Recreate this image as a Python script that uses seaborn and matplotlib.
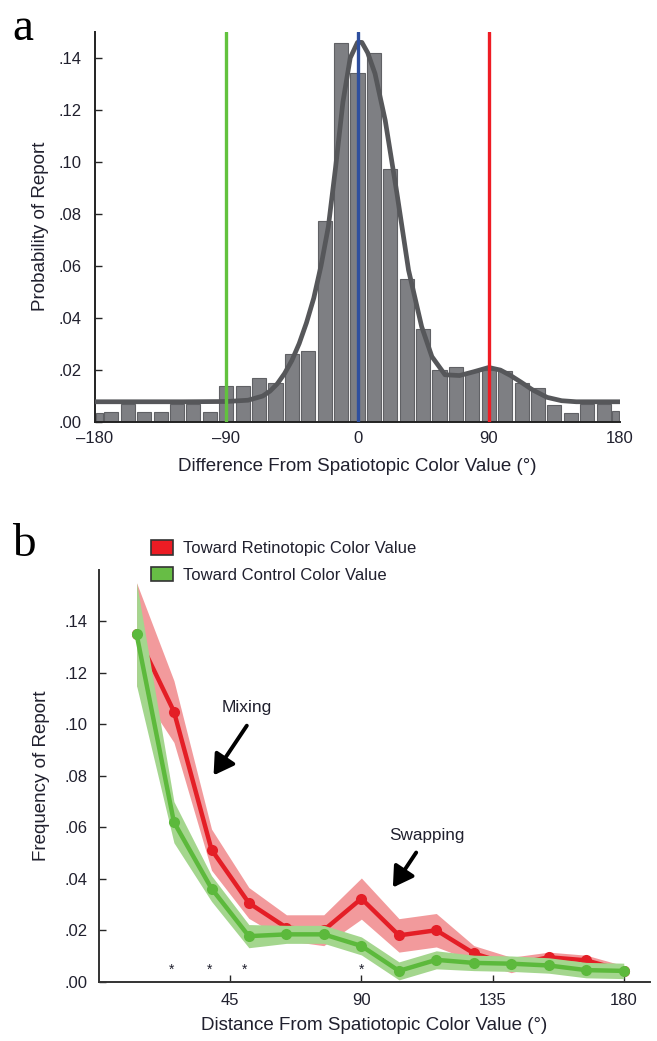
import numpy as np
import pandas as pd
import matplotlib
matplotlib.use("Agg")
import matplotlib.pyplot as plt
from matplotlib.patches import Patch
import seaborn as sns

# ---------------- Panel a data ----------------
bin_centers = [-180, -168.75, -157.5, -146.25, -135, -123.75, -112.5, -101.25,
               -90, -78.75, -67.5, -56.25, -45, -33.75, -22.5, -11.25, 0,
               11.25, 22.5, 33.75, 45, 56.25, 67.5, 78.75, 90, 101.25, 112.5,
               123.75, 135, 146.25, 157.5, 168.75, 180]
bar_heights = [0.0031, 0.0038, 0.0066, 0.0038, 0.0038, 0.0066, 0.0066, 0.0038,
               0.0138, 0.0138, 0.0168, 0.0148, 0.0261, 0.0271, 0.0772, 0.1458,
               0.1343, 0.1420, 0.0972, 0.0549, 0.0357, 0.0197, 0.0211, 0.0192,
               0.0200, 0.0195, 0.0150, 0.0128, 0.0064, 0.0032, 0.0068, 0.0068,
               0.0040]
fit_x = [-180, -120, -90, -75, -65, -60, -55, -50, -45, -40, -35, -30, -25, -20,
         -15, -10, -5, 0, 3, 7, 12, 19, 27, 35, 44, 51, 60, 70, 80, 90, 98, 105,
         112, 120, 130, 140, 150, 180]
fit_y = [0.0076, 0.0076, 0.0077, 0.0082, 0.0098, 0.0117, 0.0145, 0.0185, 0.0235,
         0.0300, 0.0380, 0.0475, 0.0600, 0.0750, 0.0980, 0.1230, 0.1400, 0.1460,
         0.1460, 0.1420, 0.1340, 0.1160, 0.0880, 0.0583, 0.0365, 0.0250, 0.0180,
         0.0177, 0.0192, 0.0208, 0.0198, 0.0177, 0.0152, 0.0122, 0.0093, 0.0080,
         0.0076, 0.0076]
ref_lines = {"control": -90, "spatiotopic": 0, "retinotopic": 90}
a_xticks = [-180, -90, 0, 90, 180]
a_xticklabels = ["\u2013180", "\u201390", "0", "90", "180"]
yticks = [0.00, 0.02, 0.04, 0.06, 0.08, 0.10, 0.12, 0.14]
yticklabels = [".00", ".02", ".04", ".06", ".08", ".10", ".12", ".14"]

# ---------------- Panel b data ----------------
dist = [12.9, 25.7, 38.6, 51.4, 64.3, 77.1, 90, 102.9, 115.7, 128.6, 141.4,
        154.3, 167.1, 180]
retino = [0.135, 0.105, 0.0513, 0.0306, 0.021, 0.020, 0.0323, 0.018, 0.020,
          0.011, 0.0065, 0.0095, 0.0083, 0.0042]
retino_err = [0.020, 0.012, 0.008, 0.006, 0.005, 0.006, 0.008, 0.0065, 0.0065,
              0.003, 0.003, 0.002, 0.002, 0.002]
control = [0.135, 0.062, 0.0362, 0.0177, 0.0184, 0.0184, 0.0139, 0.0042, 0.0085,
           0.0073, 0.0070, 0.0063, 0.0045, 0.0042]
control_err = [0.020, 0.008, 0.005, 0.0045, 0.0035, 0.0035, 0.0035, 0.0035,
               0.0035, 0.003, 0.003, 0.003, 0.003, 0.003]
sig_x = [25.0, 38.0, 50.0, 90]
b_xticks = [45, 90, 135, 180]
b_xticklabels = ["45", "90", "135", "180"]

# ---------------- style ----------------
sns.set_theme(style="ticks")
plt.rcParams["font.family"] = ["Liberation Sans", "DejaVu Sans"]
TXT = "#20202e"
RED = "#e41e26"
GREEN = "#5cb93c"
BLUE = "#2e4f9e"
TICK_FS = 12
LAB_FS = 13.5

fig = plt.figure(figsize=(6.57, 10.41), dpi=100)
W, H = 657, 1041

def add_axes(l, r, t, b):
    return fig.add_axes([l / W, 1 - b / H, (r - l) / W, (b - t) / H])

# ---------------- Panel a ----------------
ax1 = add_axes(95, 620, 32, 421.5)
edges = [-180.0] + list(np.arange(-174.375, 180, 11.25)) + [180.0]
df_a = pd.DataFrame({"diff": bin_centers, "p": bar_heights})
sns.histplot(data=df_a, x="diff", weights="p", bins=edges, shrink=0.86,
             color="#7e7f83", edgecolor="#606165", linewidth=0.8, alpha=1,
             ax=ax1, zorder=2)
sns.lineplot(x=fit_x, y=fit_y, color="#56575a", lw=3.4, ax=ax1, zorder=3)
ax1.axvline(ref_lines["control"], color="#62c23e", lw=2.4, zorder=4)
ax1.axvline(ref_lines["spatiotopic"], color=BLUE, lw=2.4, zorder=4)
ax1.axvline(ref_lines["retinotopic"], color="#ee1c24", lw=2.4, zorder=4)
ax1.set_xlim(-180, 180)
ax1.set_ylim(0, 0.15)
ax1.set_xticks(a_xticks)
ax1.set_xticklabels(a_xticklabels)
ax1.set_yticks(yticks)
ax1.set_yticklabels(yticklabels)
ax1.tick_params(axis="y", direction="in", length=5, width=1, pad=9.5,
                labelsize=TICK_FS, labelcolor=TXT)
ax1.tick_params(axis="x", length=0, pad=7, labelsize=TICK_FS, labelcolor=TXT)
ax1.set_xlabel("Difference From Spatiotopic Color Value (\u00b0)", fontsize=LAB_FS,
               color=TXT)
ax1.set_ylabel("Probability of Report", fontsize=LAB_FS, color=TXT)
ax1.xaxis.label.set_verticalalignment("center")
ax1.yaxis.label.set_verticalalignment("center")
ax1.xaxis.set_label_coords(0.5, (421.5 - 466.5) / 389.5)
ax1.yaxis.set_label_coords((41 - 95) / 525, 0.5)
for s in ["top", "right"]:
    ax1.spines[s].set_visible(False)
for s in ["left", "bottom"]:
    ax1.spines[s].set_linewidth(1.4)
    ax1.spines[s].set_color("#222222")

# ---------------- Panel b ----------------
ax2 = add_axes(99, 650, 570, 981.7)
r = np.array(retino); re = np.array(retino_err)
c = np.array(control); ce = np.array(control_err)
ax2.fill_between(dist, r - re, r + re, color="#f29a9c", lw=0, zorder=1)
sns.lineplot(x=dist, y=retino, color=RED, lw=3.2, marker="o", markersize=8,
             markeredgewidth=0, ax=ax2, zorder=2)
ax2.fill_between(dist, c - ce, c + ce, color="#a4d68e", lw=0, zorder=3)
sns.lineplot(x=dist, y=control, color=GREEN, lw=3.2, marker="o", markersize=8,
             markeredgewidth=0, ax=ax2, zorder=4)
for sx in sig_x:
    ax2.text(sx, 0.0045, "*", ha="center", va="center", fontsize=10, color=TXT)
arrow_style = dict(arrowstyle="-|>,head_length=1.0,head_width=0.6",
                   color="black", lw=2.8, shrinkA=0, shrinkB=0)
ax2.annotate("", xy=(39.3, 0.0802), xytext=(50.7, 0.0995), arrowprops=arrow_style)
ax2.text(50.7, 0.1067, "Mixing", ha="center", va="center", fontsize=12.5, color=TXT)
ax2.annotate("", xy=(100.8, 0.0366), xytext=(108.8, 0.0502), arrowprops=arrow_style)
ax2.text(112.4, 0.0567, "Swapping", ha="center", va="center", fontsize=12.3, color=TXT)
ax2.set_xlim(0, 189)
ax2.set_ylim(0, 0.16)
ax2.set_xticks(b_xticks)
ax2.set_xticklabels(b_xticklabels)
ax2.set_yticks(yticks)
ax2.set_yticklabels(yticklabels)
ax2.tick_params(axis="both", direction="in", length=5, width=1,
                labelsize=TICK_FS, labelcolor=TXT)
ax2.tick_params(axis="y", pad=8)
ax2.tick_params(axis="x", pad=8)
ax2.set_xlabel("Distance From Spatiotopic Color Value (\u00b0)", fontsize=LAB_FS,
               color=TXT)
ax2.set_ylabel("Frequency of Report", fontsize=LAB_FS, color=TXT)
ax2.xaxis.label.set_verticalalignment("center")
ax2.yaxis.label.set_verticalalignment("center")
ax2.xaxis.set_label_coords(0.5, (981.7 - 1025) / 411.7)
ax2.yaxis.set_label_coords((41.5 - 99) / 551, 0.5)
for s in ["top", "right"]:
    ax2.spines[s].set_visible(False)
for s in ["left", "bottom"]:
    ax2.spines[s].set_linewidth(1.4)
    ax2.spines[s].set_color("#333333")

handles = [Patch(facecolor="#ec1c24", edgecolor="#333333", lw=1.2,
                 label="Toward Retinotopic Color Value"),
           Patch(facecolor="#67bd45", edgecolor="#333333", lw=1.2,
                 label="Toward Control Color Value")]
fig.legend(handles=handles, loc="upper left",
           bbox_to_anchor=(151 / W, 1 - 540 / H), bbox_transform=fig.transFigure,
           frameon=False, fontsize=12, handlelength=1.3, handleheight=1.0,
           handletextpad=0.6, labelspacing=0.62, borderpad=0, borderaxespad=0,
           labelcolor=TXT)

# panel letters
fig.text(12 / W, 1 - 8 / H, "a", fontsize=34, family=["Liberation Serif", "DejaVu Serif"],
         va="top", ha="left", color="black")
fig.text(12 / W, 1 - 524 / H, "b", fontsize=34, family=["Liberation Serif", "DejaVu Serif"],
         va="top", ha="left", color="black")

fig.savefig("out.png", dpi=100)
